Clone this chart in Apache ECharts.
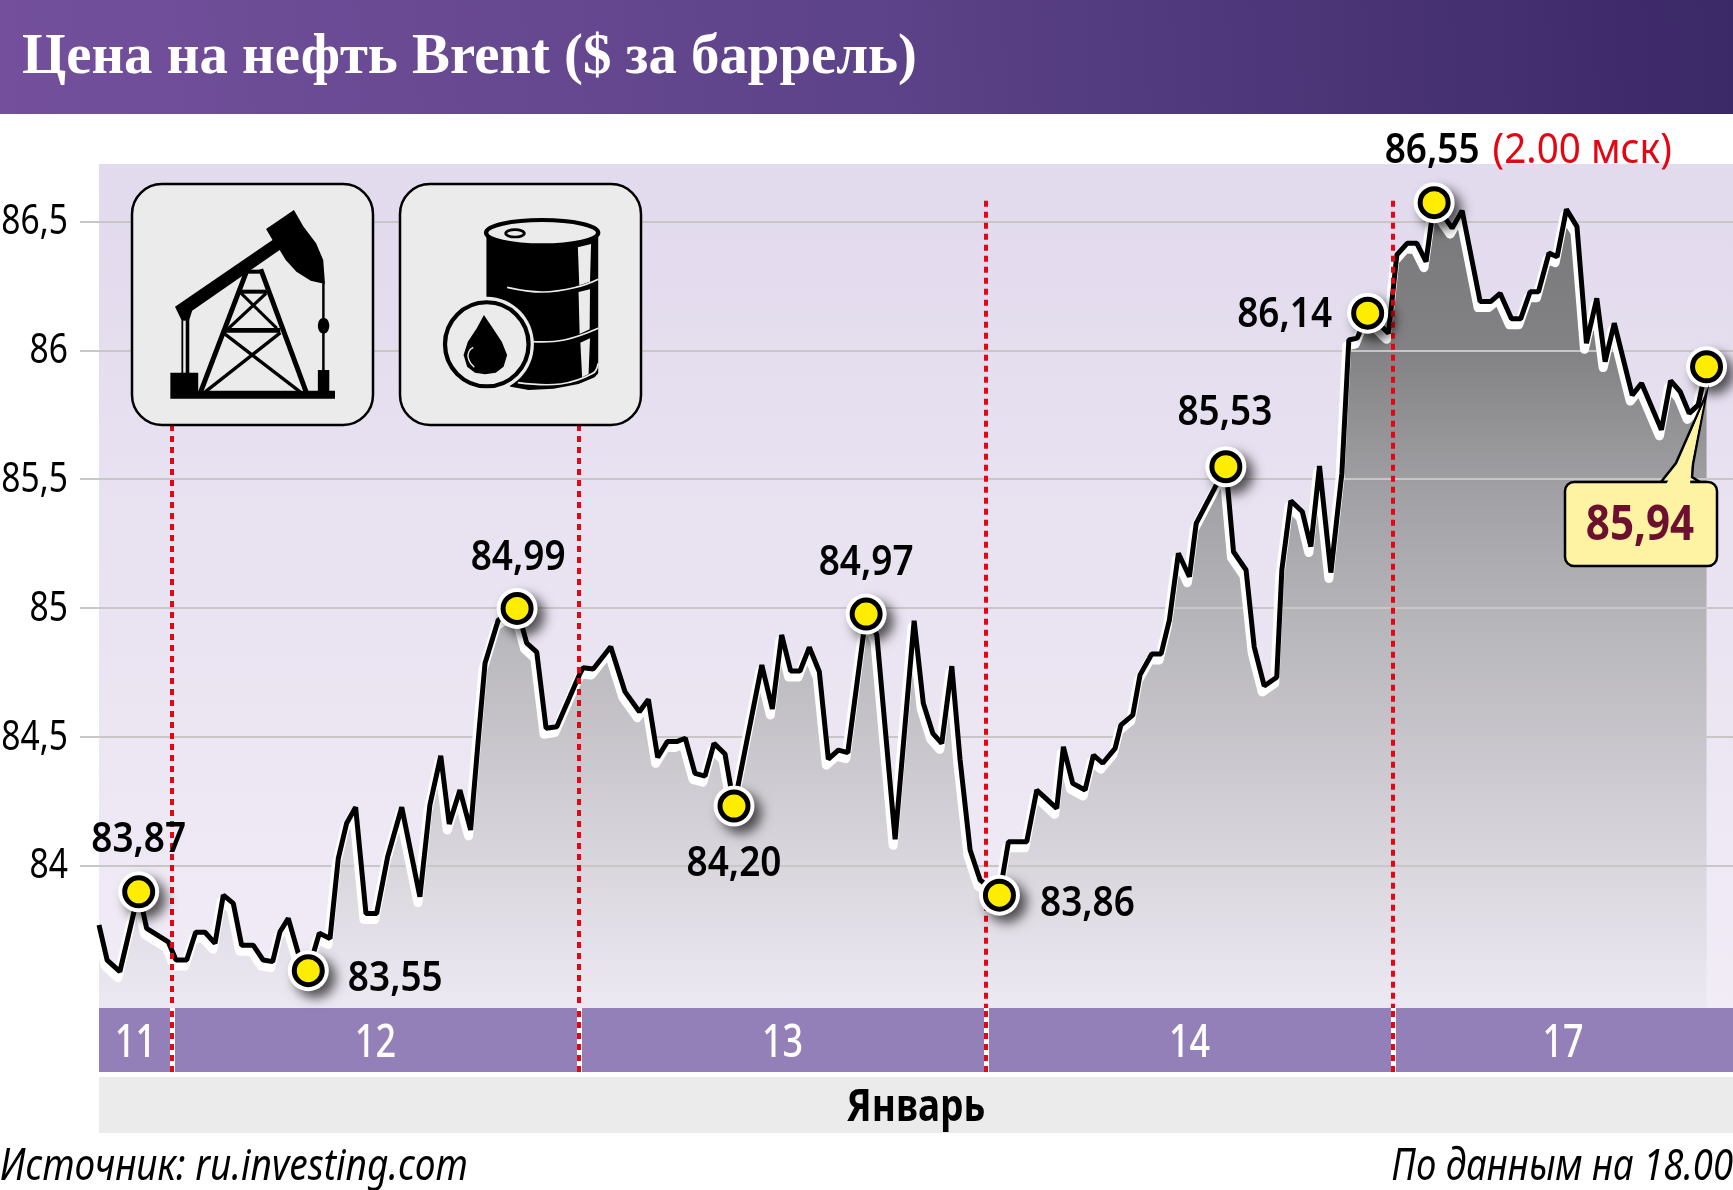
<!DOCTYPE html>
<html lang="ru">
<head>
<meta charset="UTF-8">
<title>Brent</title>
<script src="https://cdn.jsdelivr.net/npm/echarts@6/dist/echarts.min.js"></script>
<style>
  html, body { margin: 0; padding: 0; background: #fff; }
  #main { width: 1733px; height: 1190px; }
</style>
</head>
<body>
<div id="main"></div>
<script>
// hours counted from 00:00 of January 11, the weekend before the 17th is skipped
var hours = [19.70,20.18,20.93,22.04,22.51,23.78,24.24,24.87,25.40,25.95,26.54,27.03,27.62,28.11,28.79,29.38,29.94,30.37,30.86,31.45,
  32.04,32.69,33.32,33.81,34.30,34.83,35.44,36.07,36.72,37.55,38.62,39.21,39.85,40.35,40.98,41.61,42.06,42.46,43.24,44.35,
  44.92,45.51,46.06,46.69,48.02,48.25,48.84,49.87,50.71,51.56,52.09,52.64,53.21,53.76,54.27,54.84,55.43,55.96,56.61,57.14,
  58.78,59.40,59.95,60.48,61.03,61.58,62.17,62.70,63.29,63.85,64.93,65.56,66.64,67.76,68.30,68.86,69.39,69.98,70.47,71.06,
  71.65,72.79,73.32,74.40,74.99,76.17,76.56,77.11,77.84,78.33,78.88,79.61,79.95,80.65,81.08,81.77,82.32,82.81,83.34,83.99,
  84.39,86.14,86.59,87.33,87.81,88.40,89.14,89.44,89.97,90.65,91.15,91.66,92.33,92.98,93.39,93.88,94.50,95.73,96.22,96.83,
  97.40,97.94,98.42,99.48,100.07,101.13,101.75,102.31,102.98,103.52,104.08,104.57,105.19,105.67,106.22,106.84,107.40,108.01,108.50,109.04,
  110.10,110.65,111.82,112.36,112.93,113.46,113.99,114.48];
var prices = [83.769,83.633,83.588,83.898,83.756,83.704,83.633,83.633,83.741,83.741,83.698,83.885,83.853,83.691,83.691,83.633,83.627,83.743,83.795,83.659,
  83.592,83.737,83.717,84.028,84.164,84.226,83.814,83.814,84.034,84.226,83.879,84.235,84.426,84.161,84.293,84.138,84.487,84.785,84.953,84.998,
  84.863,84.828,84.533,84.539,84.740,84.768,84.763,84.849,84.675,84.597,84.645,84.420,84.481,84.481,84.494,84.358,84.347,84.474,84.433,84.231,
  84.778,84.608,84.895,84.755,84.755,84.847,84.752,84.413,84.448,84.438,84.976,84.895,84.102,84.950,84.630,84.513,84.474,84.774,84.410,84.060,
  83.944,83.885,84.092,84.092,84.293,84.222,84.461,84.319,84.293,84.429,84.397,84.455,84.545,84.584,84.740,84.821,84.821,84.953,85.212,85.121,
  85.328,85.548,85.218,85.147,84.849,84.697,84.731,85.147,85.416,85.373,85.238,85.551,85.137,85.523,86.040,86.047,86.144,86.066,86.370,86.415,
  86.415,86.344,86.573,86.474,86.542,86.189,86.189,86.221,86.122,86.122,86.227,86.227,86.377,86.363,86.547,86.480,86.027,86.202,85.956,86.105,
  85.826,85.872,85.691,85.882,85.839,85.755,85.788,85.936];

// points that carry a yellow marker (index into hours/prices) and what is written next to them
var markerIdx = [3, 20, 39, 59, 70, 81, 101, 116, 122, 147];
var markerText = ['83,87', '83,55', '84,99', '84,20', '84,97', '83,86', '85,53', '86,14', '86,55', ''];
var markerOffset = [[0, -52], [87, 8], [1, -50], [0, 58], [0, -51], [88, 9], [-1, -54], [-83, 2], [-2, -52], [0, 0]];

var yTicks = [84, 84.5, 85, 85.5, 86, 86.5];
var dayEdges = [19.70, 24, 48, 72, 96, 116.04];
var dayNames = ['11', '12', '13', '14', '17'];
var dayLineTops = [85.71, 85.71, 86.58, 86.58];

var FONT = '"Noto Sans", "Open Sans", sans-serif';
var BOX = '#ebebeb';

var lineData = hours.map(function (h, i) { return [h, prices[i]]; });
var yMin = 83.447, yMax = 86.723;

var redLine = { color: '#e30613', width: 4, type: [6, 5] };

// there is no condensed face on the machine, so narrow text is squeezed with scaleX
function narrowText(x, y, text, font, fill, scale, align) {
    return {
        type: 'text', x: x, y: y, scaleX: scale,
        style: { x: 0, y: 0, text: text, font: font, fill: fill, textAlign: align || 'center', textVerticalAlign: 'middle' }
    };
}

function poly(pts, fill) { return { type: 'polygon', z: 21, shape: { points: pts }, style: { fill: fill || '#000' } }; }
function bar(a, b, c, d, w) { return { type: 'line', z: 21, shape: { x1: a, y1: b, x2: c, y2: d }, style: { stroke: '#000', lineWidth: w || 14 } }; }
function oval(cx, cy, rx, ry, fill, stroke, w) {
    return { type: 'ellipse', z: 21, shape: { cx: cx, cy: cy, rx: rx, ry: ry }, style: { fill: fill, stroke: stroke, lineWidth: w || 0 } };
}
function hoop(pts) { return { type: 'polyline', z: 21, shape: { points: pts, smooth: 0.4 }, style: { fill: null, stroke: BOX, lineWidth: 5 } }; }

var pumpIcon = [
    poly([[197, 638], [275, 638], [275, 692], [610, 692], [610, 630], [642, 630], [642, 692], [658, 692], [658, 716], [197, 716]]),
    poly([[210, 440], [483, 240], [465, 207], [543, 150], [570, 200], [605, 250], [625, 300], [630, 372], [590, 362], [550, 335], [520, 300], [503, 270], [258, 452], [250, 480], [250, 640], [228, 640], [228, 480]]),
    { type: 'rect', z: 21, shape: { x: 233, y: 482, width: 7, height: 156 }, style: { fill: BOX } },
    { type: 'rect', z: 21, shape: { x: 622, y: 370, width: 7, height: 262 }, style: { fill: '#000' } },
    oval(626, 497, 16, 24, '#000'),
    bar(410, 335, 282, 695), bar(450, 328, 577, 695),
    bar(398, 335, 456, 335, 12), bar(385, 395, 470, 395, 12), bar(348, 511, 505, 511, 14),
    bar(395, 400, 495, 505, 9), bar(465, 400, 360, 505, 9),
    bar(345, 518, 560, 695, 10), bar(505, 518, 295, 695, 10)
];

var barrelIcon = [
    poly([[1082, 225], [1395, 225], [1395, 640], [1385, 652], [1340, 672], [1270, 686], [1200, 690], [1150, 680], [1082, 640]]),
    oval(1238, 218, 157, 38, BOX, '#000', 12),
    oval(1162, 220, 26, 11, 'none', '#000', 8),
    poly([[1338, 262], [1375, 252], [1372, 365], [1342, 376]], BOX),
    poly([[1340, 396], [1372, 388], [1371, 508], [1343, 522]], BOX),
    poly([[1345, 548], [1372, 535], [1368, 642], [1350, 652]], BOX),
    hoop([[1140, 382], [1240, 396], [1340, 380], [1395, 358]]),
    hoop([[1210, 545], [1300, 540], [1395, 505]]),
    hoop([[1170, 668], [1290, 672], [1380, 640], [1395, 610]]),
    oval(1083, 553, 132, 143, BOX),
    oval(1083, 553, 117, 126, BOX, '#000', 12),
    poly([[1075, 465], [1055, 505], [1030, 545], [1018, 585], [1028, 620], [1050, 638], [1078, 643], [1108, 638], [1130, 620], [1140, 585], [1125, 545], [1100, 505]]),
    { type: 'polyline', z: 21, shape: { points: [[1045, 562], [1033, 575], [1033, 600], [1048, 622]], smooth: 0.5 }, style: { fill: null, stroke: BOX, lineWidth: 4 } }
];

var chart = echarts.init(document.getElementById('main'), null, { renderer: 'canvas' });

chart.setOption({
    animation: false,
    backgroundColor: '#fff',
    title: {
        text: 'Цена на нефть Brent ($ за баррель)',
        left: 17, top: 25, z: 30,
        textStyle: { color: '#fff', fontFamily: '"Liberation Serif", serif', fontWeight: 'bold', fontSize: 56.8 }
    },
    grid: [
        {
            left: 99, right: 0, top: 164, height: 844, show: true, borderWidth: 0, outerBoundsMode: 'none',
            backgroundColor: new echarts.graphic.LinearGradient(0, 0, 0, 1, [
                { offset: 0, color: '#e2daed' }, { offset: 1, color: '#f1ecf6' }
            ])
        },
        { left: 99, right: 0, top: 1008, height: 64, show: false, outerBoundsMode: 'none' }
    ],
    xAxis: [
        { type: 'value', gridIndex: 0, min: dayEdges[0], max: dayEdges[5], show: false },
        { type: 'value', gridIndex: 1, min: dayEdges[0], max: dayEdges[5], show: false }
    ],
    yAxis: [
        {
            type: 'value', gridIndex: 0, min: yMin, max: yMax, z: 3,
            axisLine: { show: false },
            axisTick: { show: true, length: 19, customValues: yTicks, lineStyle: { color: '#c9c6c8', width: 2 } },
            axisLabel: { show: false, customValues: yTicks },
            splitLine: { show: true, lineStyle: { color: '#c9c6c8', width: 2 } }
        },
        { type: 'value', gridIndex: 1, min: 0, max: 1, show: false }
    ],
    graphic: [
        { type: 'rect', z: 1, shape: { x: 0, y: 0, width: 1733, height: 114 }, style: {
            fill: new echarts.graphic.LinearGradient(0, 1, 1, 0, [
                { offset: 0, color: '#74509c' }, { offset: 0.5, color: '#5d4389' }, { offset: 1, color: '#3b2867' }
            ]) } },
        { type: 'rect', z: 1, shape: { x: 99, y: 1077, width: 1634, height: 56 }, style: { fill: BOX } },
        { type: 'text', z: 20, x: 916, y: 1108, scaleX: 0.84, style: { text: 'Январь', fill: '#000', font: 'bold 44px ' + FONT, textAlign: 'center', textVerticalAlign: 'middle' } },
        { type: 'text', z: 20, x: 0, y: 1167, scaleX: 0.842, style: { text: 'Источник: ru.investing.com', fill: '#000', font: 'italic 44px ' + FONT, textAlign: 'left', textVerticalAlign: 'middle' } },
        { type: 'text', z: 20, x: 1733, y: 1167, scaleX: 0.83, style: { text: 'По данным на 18.00', fill: '#000', font: 'italic 44px ' + FONT, textAlign: 'right', textVerticalAlign: 'middle' } },

        { type: 'rect', z: 20, shape: { x: 132, y: 184, width: 241, height: 241, r: 30 }, style: { fill: BOX, stroke: '#000', lineWidth: 2.5 } },
        { type: 'rect', z: 20, shape: { x: 400, y: 184, width: 241, height: 241, r: 30 }, style: { fill: BOX, stroke: '#000', lineWidth: 2.5 } },
        { type: 'group', x: 100, y: 160, scaleX: 1 / 2.8, scaleY: 1 / 3, children: pumpIcon.concat(barrelIcon) },

        // callout for the last price
        { type: 'polygon', z: 22, shape: { points: [[1706, 395], [1693, 464], [1692, 477], [1700, 482], [1661, 482], [1676, 463]] }, style: { fill: '#fdf3a2', stroke: '#000', lineWidth: 2.5 } },
        { type: 'rect', z: 22, shape: { x: 1565, y: 482, width: 152, height: 84, r: 9 }, style: { fill: '#fdf3a2', stroke: '#000', lineWidth: 2.5 } },
        { type: 'polygon', z: 23, shape: { points: [[1704, 402], [1691, 466], [1690, 486], [1665, 486], [1678, 464]] }, style: { fill: '#fdf3a2' } },
        { type: 'text', z: 24, x: 1640, y: 526, scaleX: 0.86, style: { text: '85,94', fill: '#6d0f2f', font: 'bold 49px ' + FONT, textAlign: 'center', textVerticalAlign: 'middle' } }
    ],
    series: [
        {
            // gradient under the curve
            type: 'line', z: 2, xAxisIndex: 0, yAxisIndex: 0, data: lineData,
            symbol: 'none', lineStyle: { width: 0 },
            areaStyle: {
                origin: 'start', opacity: 1,
                color: new echarts.graphic.LinearGradient(0, 0, 0, 1, [
                    { offset: 0.03, color: '#7a797b' }, { offset: 0.18, color: '#828183' },
                    { offset: 0.36, color: '#a1a0a4' }, { offset: 0.54, color: '#b9b8bc' },
                    { offset: 0.74, color: '#d0cdd4' }, { offset: 0.87, color: '#dedbe3' },
                    { offset: 0.99, color: '#ece8f2' }
                ])
            }
        },
        {
            // white copy of the line, moved to the lower left
            type: 'custom', z: 4, xAxisIndex: 0, yAxisIndex: 0, silent: true, clip: false,
            data: [lineData[0]],
            renderItem: function (params, api) {
                return {
                    type: 'polyline', x: -2, y: 6,
                    shape: { points: lineData.map(function (d) { return api.coord(d); }) },
                    style: { fill: null, stroke: '#fff', lineWidth: 9, lineJoin: 'round' }
                };
            }
        },
        {
            // the price line
            type: 'line', z: 5, xAxisIndex: 0, yAxisIndex: 0, data: lineData,
            symbol: 'none',
            lineStyle: { color: '#000', width: 5, join: 'bevel' }
        },
        {
            // day borders inside the plot
            type: 'line', z: 6, xAxisIndex: 0, yAxisIndex: 0, data: [], symbol: 'none',
            markLine: {
                silent: true, symbol: 'none', label: { show: false }, animation: false, z: 6,
                lineStyle: redLine,
                data: dayEdges.slice(1, 5).map(function (d, i) {
                    return [{ coord: [d, dayLineTops[i]] }, { coord: [d, yMin] }];
                })
            }
        },
        {
            type: 'scatter', z: 7, xAxisIndex: 0, yAxisIndex: 0,
            data: markerIdx.map(function (idx) { return lineData[idx]; }),
            symbolSize: 41, silent: true,
            itemStyle: { color: '#fff', opacity: 1, shadowColor: 'rgba(0,0,0,0.65)', shadowBlur: 12, shadowOffsetX: 7, shadowOffsetY: 7 }
        },
        {
            type: 'scatter', z: 8, xAxisIndex: 0, yAxisIndex: 0,
            data: markerIdx.map(function (idx) { return lineData[idx]; }),
            symbolSize: 28, silent: true,
            itemStyle: { color: '#ffed00', opacity: 1, borderColor: '#000', borderWidth: 5 }
        },
        {
            // values written next to the markers
            type: 'custom', z: 9, xAxisIndex: 0, yAxisIndex: 0, silent: true,
            data: markerIdx.map(function (idx) { return lineData[idx]; }),
            renderItem: function (params, api) {
                var p = api.coord([api.value(0), api.value(1)]);
                var i = params.dataIndex;
                return narrowText(p[0] + markerOffset[i][0], p[1] + markerOffset[i][1], markerText[i], '600 42px ' + FONT, '#000', 0.88);
            }
        },
        {
            type: 'custom', z: 9, xAxisIndex: 0, yAxisIndex: 0, silent: true,
            data: [lineData[markerIdx[8]]],
            renderItem: function (params, api) {
                var p = api.coord([api.value(0), api.value(1)]);
                return narrowText(p[0] + 148, p[1] - 52, '(2.00 мск)', '42px ' + FONT, '#e30613', 0.92);
            }
        },
        {
            // y axis labels
            type: 'custom', z: 9, xAxisIndex: 0, yAxisIndex: 0, silent: true,
            data: yTicks.map(function (t) { return [dayEdges[0], t]; }),
            renderItem: function (params, api) {
                var p = api.coord([api.value(0), api.value(1)]);
                return narrowText(p[0] - 31, p[1] + 1, String(yTicks[params.dataIndex]).replace('.', ','), '42px ' + FONT, '#000', 0.8, 'right');
            }
        },
        {
            // day strip under the plot
            type: 'line', z: 3, xAxisIndex: 1, yAxisIndex: 1, data: [[dayEdges[0], 0]], symbol: 'none',
            markArea: {
                silent: true,
                itemStyle: { color: '#9480b9' },
                label: { show: false },
                data: dayNames.map(function (name, i) {
                    return [{ coord: [dayEdges[i], 0] }, { coord: [dayEdges[i + 1], 1] }];
                })
            },
            markLine: {
                silent: true, symbol: 'none', label: { show: false }, animation: false,
                data: dayEdges.slice(1, 5).map(function (d) {
                    return [{ coord: [d, 0], lineStyle: { color: '#fff', width: 5, type: 'solid' } }, { coord: [d, 1] }];
                }).concat(dayEdges.slice(1, 5).map(function (d) {
                    return [{ coord: [d, 0], lineStyle: redLine }, { coord: [d, 1] }];
                }))
            }
        },
        {
            type: 'custom', z: 9, xAxisIndex: 1, yAxisIndex: 1, silent: true,
            data: dayNames.map(function (name, i) { return [(dayEdges[i] + dayEdges[i + 1]) / 2, 0.5]; }),
            renderItem: function (params, api) {
                var p = api.coord([api.value(0), api.value(1)]);
                return narrowText(p[0], p[1] + 4, dayNames[params.dataIndex], '500 45px ' + FONT, '#fff', 0.8);
            }
        }
    ]
});
</script>
</body>
</html>
